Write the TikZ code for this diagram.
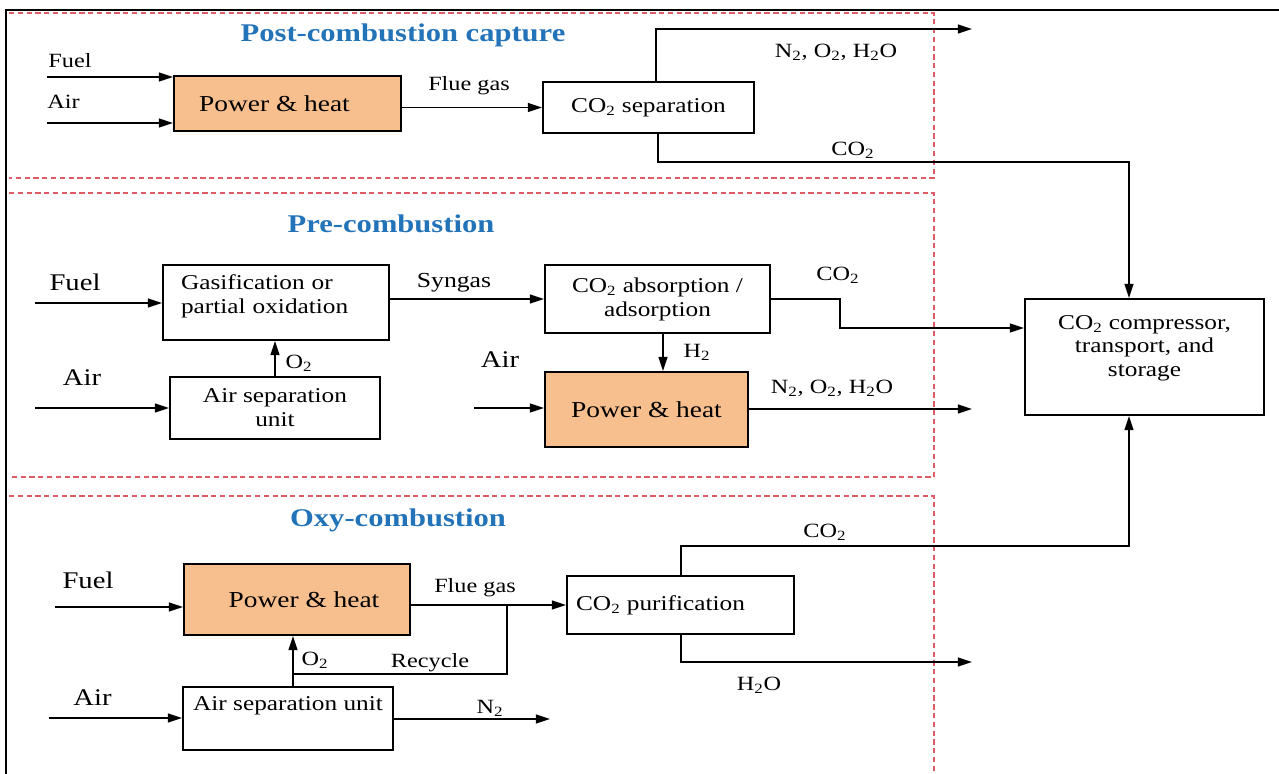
\documentclass[tikz,border=0pt]{standalone}
\usepackage{fontspec}
\setmainfont{Liberation Serif}[FakeStretch=1.2]
\usetikzlibrary{arrows.meta,calc}
\definecolor{orangefill}{RGB}{247,190,142}
\definecolor{titleblue}{RGB}{35,115,185}
\definecolor{dashred}{RGB}{222,90,100}
\begin{document}
\begin{tikzpicture}[x=0.02cm,y=-0.02cm,
  box/.style={draw, line width=1.2pt, inner sep=0pt, font=\fontsize{12}{13.6}\selectfont},
  hot/.style={box, fill=orangefill, font=\fontsize{13}{15}\selectfont},
  arr/.style={line width=1pt, -{Triangle[length=8pt,width=5pt]}},
  ln/.style={line width=1pt},
  lbl/.style={font=\fontsize{11.5}{13}\selectfont, inner sep=0pt, anchor=base},
  big/.style={font=\fontsize{13.6}{16}\selectfont, inner sep=0pt, anchor=base},
  ttl/.style={font=\bfseries\fontsize{14.5}{17}\selectfont, text=titleblue, inner sep=0pt},
  zone/.style={draw=dashred, line width=0.6pt, dash pattern=on 3pt off 2pt}
]
\useasboundingbox (0,0) rectangle (1279,774);

% zones and frame
\draw[zone] (9,13) -- (934,13) -- (934,178) -- (9,178);
\draw[zone] (9,193) -- (934,193) -- (934,477) -- (9,477);
\draw[zone] (9,496) -- (934,496) -- (934,774);
\draw[line width=1.2pt] (6,774) -- (6,10) -- (1279,10);

% titles
\node[ttl] (t1) at (403,35.5) {Post-combustion capture};
\node[ttl] (t2) at (391,224) {Pre-combustion};
\node[ttl] (t3) at (398,520) {Oxy-combustion};

% ---------- boxes
\node[hot, minimum width=4.54cm, minimum height=1.1cm] (ph1) at (287.5,103.5) {Power \& heat\kern0.52cm};
\node[box, minimum width=4.22cm, minimum height=1.02cm] (sep1) at (648.5,107.5) {CO\textsubscript{2} separation};

\node[box, align=left, text width=3.8cm, inner xsep=0.36cm, minimum height=1.5cm] (gas) at (276,302.5) {Gasification or\\partial oxidation\\[-4pt]\mbox{}};
\node[box, align=center, minimum width=4.2cm, minimum height=1.24cm] (asu2) at (275,408) {Air separation\\unit};
\node[box, align=center, minimum width=4.5cm, minimum height=1.36cm] (abs) at (657.5,299) {CO\textsubscript{2} absorption /\\adsorption};
\node[hot, minimum width=4.06cm, minimum height=1.5cm] (ph2) at (646.5,409.5) {Power \& heat};
\node[box, align=center, minimum width=4.78cm, minimum height=2.32cm] (comp) at (1144.5,357) {CO\textsubscript{2} compressor,\\transport, and\\storage\\[-1pt]\mbox{}};

\node[hot, minimum width=4.52cm, minimum height=1.42cm] (ph3) at (297,599.5) {\kern0.28cm Power \& heat};
\node[box, minimum width=4.2cm, minimum height=1.26cm, text height=9pt, text depth=18.6pt] (asu3) at (288,718.5) {Air separation unit};
\node[box, minimum width=4.54cm, minimum height=1.16cm] (pur) at (680.5,605) {CO\textsubscript{2} purification\kern0.8cm};

% ---------- section 1 connectors
\coordinate (f1) at (47,77);
\coordinate (a1) at (47,123);
\draw[arr] (f1) -- (f1 -| ph1.west);
\draw[arr] (a1) -- (a1 -| ph1.west);
\draw[arr] (ph1.east |- sep1.west) -- (sep1.west);
\coordinate (n1) at (972,29);
\coordinate (n1v) at (656,0);
\draw[arr] (n1v |- sep1.north) |- (n1);
\coordinate (c1) at (1129,162);
\coordinate (c1v) at (658,0);
\draw[arr] (c1v |- sep1.south) |- (c1) -- (c1 |- comp.north);

\node[lbl] (lf1) at (70,67) {Fuel};
\node[lbl] (la1) at (63.5,108) {Air};
\node[lbl] (lfg1) at (469,91) {Flue gas};
\node[lbl] (ln1) at (836,57) {N\textsubscript{2}, O\textsubscript{2}, H\textsubscript{2}O};
\node[lbl] (lc1) at (853,155) {CO\textsubscript{2}};

% ---------- section 2 connectors
\coordinate (f2) at (35,303);
\coordinate (a2) at (35,408);
\draw[arr] (f2) -- (f2 -| gas.west);
\draw[arr] (a2) -- (a2 -| asu2.west);
\draw[arr] (asu2.north) -- (asu2.north |- gas.south);
\draw[arr] (gas.east |- abs.west) -- (abs.west);
\coordinate (k2) at (840,328);
\draw[arr] (abs.east) -| (k2) -- (k2 -| comp.west);
\coordinate (h2v) at (663,0);
\draw[arr] (h2v |- abs.south) -- (h2v |- ph2.north);
\coordinate (a2b) at (474,408);
\draw[arr] (a2b) -- (a2b -| ph2.west);
\coordinate (o2) at (972,409);
\draw[arr] (ph2.east |- o2) -- (o2);

\node[big] (lf2) at (75,290) {Fuel};
\node[big] (la2) at (82,385) {Air};
\node[lbl] (lo2) at (299,368) {O\textsubscript{2}};
\node[lbl, font=\fontsize{12.2}{14}\selectfont] (lsg) at (454,287) {Syngas};
\node[lbl] (lc2) at (838,280) {CO\textsubscript{2}};
\node[lbl] (lh2) at (697,357) {H\textsubscript{2}};
\node[big] (la2b) at (500,367) {Air};
\node[lbl] (ln2) at (832,393) {N\textsubscript{2}, O\textsubscript{2}, H\textsubscript{2}O};

% ---------- section 3 connectors
\coordinate (f3) at (55,607);
\coordinate (a3) at (49,718);
\draw[arr] (f3) -- (f3 -| ph3.west);
\draw[arr] (a3) -- (a3 -| asu3.west);
\draw[arr] (ph3.east |- pur.west) -- (pur.west);
\coordinate (rb) at (507,674);
\coordinate (ro) at (293,674);
\draw[ln] (rb |- pur.west) -- (rb) -- (ro);
\draw[arr] (ro |- asu3.north) -- (ro |- ph3.south);
\coordinate (n3) at (550,719);
\draw[arr] (asu3.east |- n3) -- (n3);
\coordinate (c3) at (1129,546);
\coordinate (pv) at (681,0);
\draw[arr] (pv |- pur.north) |- (c3) -- (c3 |- comp.south);
\coordinate (w3) at (972,662);
\draw[arr] (pv |- pur.south) |- (w3);

\node[big] (lf3) at (88,588) {Fuel};
\node[lbl] (lfg3) at (475,592) {Flue gas};
\node[lbl] (lo3) at (315,665) {O\textsubscript{2}};
\node[lbl] (lrc) at (430,667) {Recycle};
\node[big] (la3) at (92.5,705) {Air};
\node[lbl] (ln3) at (490,713) {N\textsubscript{2}};
\node[lbl] (lc3) at (825,537) {CO\textsubscript{2}};
\node[lbl] (lw3) at (759,690) {H\textsubscript{2}O};
\end{tikzpicture}
\end{document}
